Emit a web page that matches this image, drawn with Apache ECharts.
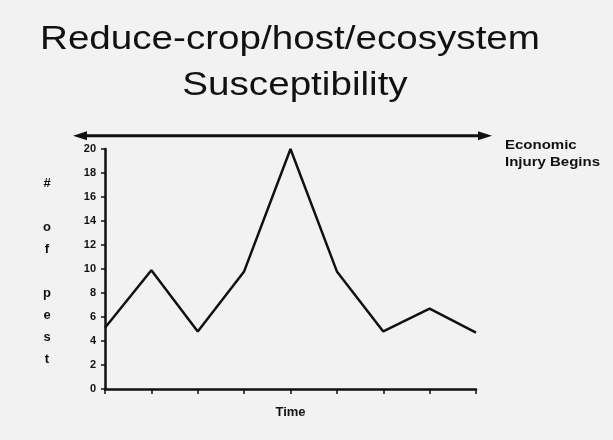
<!DOCTYPE html>
<html>
<head>
<meta charset="utf-8">
<script src="https://cdn.jsdelivr.net/npm/echarts@6/dist/echarts.min.js"></script>
<style>
  html, body { margin: 0; padding: 0; background: #f2f2f2; }
  #main { width: 613px; height: 440px; }
</style>
</head>
<body>
<div id="main"></div>
<script>
// data
var timePoints = ['1', '2', '3', '4', '5', '6', '7', '8', '9'];
var pestCounts = [5.1, 9.9, 4.8, 9.8, 20, 9.8, 4.8, 6.7, 4.7];
var yMin = 0;
var yMax = 20;
var yStep = 2;
var injuryLevel = 21.1; // level of the "Economic Injury Begins" arrow

var titleLines = ['Reduce-crop/host/ecosystem', 'Susceptibility'];
var yName = '#\n\no\nf\n\np\ne\ns\nt';
var injuryText = 'Economic\nInjury Begins';

var myChart = echarts.init(document.getElementById('main'));

var option = {
    backgroundColor: '#f2f2f2',
    animation: false,
    grid: {
        left: 105,
        right: 137,
        top: 149,
        bottom: 51
    },
    xAxis: {
        type: 'category',
        boundaryGap: false,
        data: timePoints,
        name: 'Time',
        nameLocation: 'middle',
        nameGap: 17,
        nameTextStyle: {
            fontFamily: 'Liberation Sans',
            fontWeight: 'bold',
            fontSize: 13,
            color: '#111'
        },
        axisLine: { lineStyle: { color: '#111', width: 2.5 } },
        axisTick: { show: true, interval: 0, length: 5, lineStyle: { color: '#111', width: 1.5 } },
        axisLabel: { show: false },
        splitLine: { show: false }
    },
    yAxis: {
        type: 'value',
        min: yMin,
        max: yMax,
        interval: yStep,
        axisLine: { show: true, lineStyle: { color: '#111', width: 2.5 } },
        axisTick: { show: true, length: 4, lineStyle: { color: '#111', width: 1.5 } },
        axisLabel: {
            margin: 9,
            fontFamily: 'Liberation Sans',
            fontWeight: 'bold',
            fontSize: 11,
            color: '#111'
        },
        splitLine: { show: false }
    },
    series: [{
        name: 'pests',
        type: 'line',
        data: pestCounts,
        showSymbol: false,
        symbol: 'none',
        lineStyle: { color: '#111', width: 2.5 }
    }]
};

myChart.setOption(option);

// title, side label and injury arrow
var arrowY = myChart.convertToPixel({ yAxisIndex: 0 }, injuryLevel);
var arrowLeft = 73;
var arrowRight = 492;

myChart.setOption({
    graphic: [
        {
            type: 'text', x: 290, y: 40, scaleX: 1.17,
            style: {
                text: titleLines[0], font: '33px "Liberation Sans"',
                fill: '#111', textAlign: 'center', textVerticalAlign: 'middle'
            }
        },
        {
            type: 'text', x: 295, y: 86, scaleX: 1.17,
            style: {
                text: titleLines[1], font: '33px "Liberation Sans"',
                fill: '#111', textAlign: 'center', textVerticalAlign: 'middle'
            }
        },
        {
            type: 'text', x: 47, y: 172,
            style: {
                text: yName, font: 'bold 13px "Liberation Sans"', lineHeight: 22,
                fill: '#111', textAlign: 'center', textVerticalAlign: 'top'
            }
        },
        {
            type: 'text', x: 505, y: 137, scaleX: 1.25,
            style: {
                text: injuryText, font: 'bold 12px "Liberation Sans"', lineHeight: 17,
                fill: '#111', textAlign: 'left', textVerticalAlign: 'top'
            }
        },
        {
            type: 'line',
            shape: { x1: arrowLeft + 10, y1: arrowY, x2: arrowRight - 10, y2: arrowY },
            style: { stroke: '#111', lineWidth: 3 }
        },
        {
            type: 'polygon',
            shape: { points: [[arrowLeft, arrowY], [arrowLeft + 14, arrowY - 4.5], [arrowLeft + 14, arrowY + 4.5]] },
            style: { fill: '#111' }
        },
        {
            type: 'polygon',
            shape: { points: [[arrowRight, arrowY], [arrowRight - 14, arrowY - 4.5], [arrowRight - 14, arrowY + 4.5]] },
            style: { fill: '#111' }
        }
    ]
});
</script>
</body>
</html>
